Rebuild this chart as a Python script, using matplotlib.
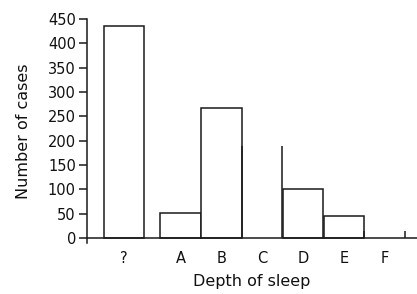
import matplotlib
matplotlib.use("Agg")
import matplotlib.pyplot as plt

categories = ["?", "A", "B", "C", "D", "E", "F"]
positions = [0, 1.385, 2.385, 3.385, 4.385, 5.385, 6.385]
counts = [435, 52, 267, 190, 100, 45, 14]
open_top = [False, False, False, True, False, False, True]
yticks = [0, 50, 100, 150, 200, 250, 300, 350, 400, 450]

plt.rcParams['font.family'] = ['DejaVu Sans']
fig = plt.figure(figsize=(4.17, 2.94), dpi=100)
ax = fig.add_axes([87/417, 51/294, 330/417, 224/294])

col = "#1a1a1a"
w = 0.99
for x, c, o in zip(positions, counts, open_top):
    if o:
        ax.vlines([x - w/2, x + w/2], 0, c, color=col, lw=1.1)
    else:
        ax.bar(x, c, width=w, facecolor="white", edgecolor=col, linewidth=1.1)

ax.set_xlim(-0.907, 7.18)
ax.set_ylim(-10, 450)
ax.spines['top'].set_visible(False)
ax.spines['right'].set_visible(False)
ax.spines['bottom'].set_position(('data', 0))
for s in ('left', 'bottom'):
    ax.spines[s].set_color(col)
    ax.spines[s].set_linewidth(1.1)
ax.set_yticks(yticks)
ax.set_xticks(positions)
ax.set_xticklabels(categories)
ax.tick_params(axis='y', length=6, width=1.1, color=col, labelsize=10.5, pad=2, labelcolor="#111111")
ax.tick_params(axis='x', length=0, labelsize=10.5, pad=9, labelcolor="#111111")
ax.set_ylabel("Number of cases", fontsize=11.5, color="#111111", labelpad=12)
ax.set_xlabel("Depth of sleep", fontsize=11.5, color="#111111", labelpad=6)

fig.savefig("out.png", dpi=100)
